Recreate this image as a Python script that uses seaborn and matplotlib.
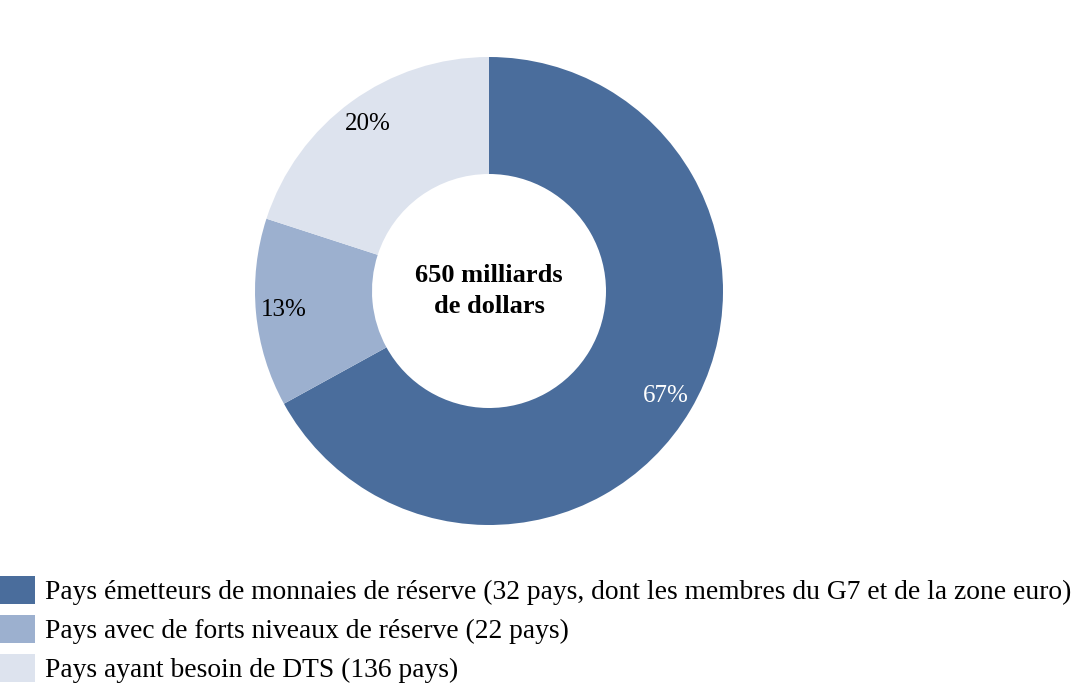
import matplotlib.pyplot as plt
import seaborn as sns
from matplotlib.patches import Patch

# ── DATA ──────────────────────────────────────────────
labels = [
    "Pays émetteurs de monnaies de réserve (32 pays, dont les membres du G7 et de la zone euro)",
    "Pays avec de forts niveaux de réserve (22 pays)",
    "Pays ayant besoin de DTS (136 pays)",
]
shares = [67, 13, 20]
colors = ["#4a6d9c", "#9cb0cf", "#dde3ee"]
pct_colors = ["white", "black", "black"]
center_text = "650 milliards\nde dollars"

# ── STYLE ─────────────────────────────────────────────
sns.set_theme(style="white")
plt.rcParams["font.family"] = ["Liberation Serif", "DejaVu Serif"]

fig = plt.figure(figsize=(10.86, 7), dpi=100)
# pie axes: centre (489, 291) px, radius 234 px
ax = fig.add_axes([(489 - 234) / 1086, 1 - (291 + 234) / 700, 468 / 1086, 468 / 700])

wedges, texts, autotexts = ax.pie(
    shares, colors=colors, startangle=90, counterclock=False,
    autopct="%d%%", pctdistance=0.88,
    wedgeprops=dict(width=0.5, edgecolor="none"),
    textprops=dict(fontsize=18),
)
for t, c in zip(autotexts, pct_colors):
    t.set_color(c)
ax.set(aspect="equal", xlim=(-1, 1), ylim=(-1, 1))

ax.text(0, 0, center_text, ha="center", va="center", color="black",
        fontsize=19, fontweight="bold", linespacing=1.4)

# ── LEGEND ────────────────────────────────────────────
handles = [Patch(facecolor=c, edgecolor="none") for c in colors]
fig.legend(handles, labels, loc="lower left", bbox_to_anchor=(0, 0.024),
           frameon=False, fontsize=19.8, labelcolor="black",
           handlelength=1.27, handleheight=1.16,
           handletextpad=0.36, labelspacing=0.36, borderpad=0, borderaxespad=0)

plt.savefig("out.png", dpi=100)
